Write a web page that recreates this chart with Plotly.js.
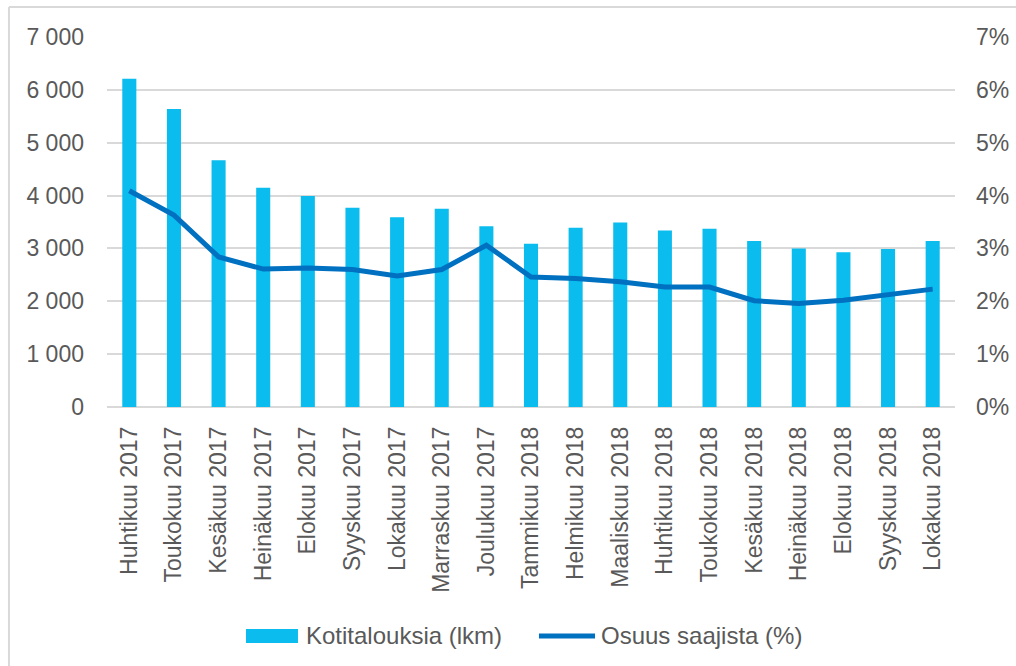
<!DOCTYPE html>
<html>
<head>
<meta charset="utf-8">
<script src="https://cdn.plot.ly/plotly-3.0.1.min.js"></script>
<style>
html,body{margin:0;padding:0;background:#fff;}
#chart{width:1016px;height:666px;}
</style>
</head>
<body>
<div id="chart"></div>
<script>
const categories = ["Huhtikuu 2017","Toukokuu 2017","Kesäkuu 2017","Heinäkuu 2017","Elokuu 2017","Syyskuu 2017","Lokakuu 2017","Marraskuu 2017","Joulukuu 2017","Tammikuu 2018","Helmikuu 2018","Maaliskuu 2018","Huhtikuu 2018","Toukokuu 2018","Kesäkuu 2018","Heinäkuu 2018","Elokuu 2018","Syyskuu 2018","Lokakuu 2018"];
const households = [6210,5640,4670,4150,3990,3770,3590,3750,3420,3090,3390,3490,3340,3370,3140,3000,2930,2990,3140];
const shareOfRecipients = [0.0409,0.0363,0.0284,0.0261,0.0263,0.0260,0.0248,0.0260,0.0306,0.0246,0.0243,0.0237,0.0227,0.0227,0.0201,0.0196,0.0202,0.0213,0.0223];
const seriesNames = ["Kotitalouksia (lkm)","Osuus saajista (%)"];

const textColor = "#595959";
const barColor = "#0bbcee";
const lineColor = "#0070c0";
const font = {family: "Liberation Sans, Arial, sans-serif", size: 23, color: textColor};
const legendFont = {family: "Liberation Sans, Arial, sans-serif", size: 24, color: textColor};

const traces = [
  {type: "bar", x: categories, y: households, name: seriesNames[0],
   marker: {color: barColor}, yaxis: "y"},
  {type: "scatter", mode: "lines", x: categories, y: shareOfRecipients, name: seriesNames[1],
   line: {color: lineColor, width: 5}, yaxis: "y2"}
];

const legY = -0.6189;
const layout = {
  width: 1016, height: 666,
  margin: {l: 107, r: 61, t: 37, b: 259},
  paper_bgcolor: "#fff", plot_bgcolor: "#fff",
  separators: ", ",
  font: font,
  bargap: 0.685,
  showlegend: false,
  xaxis: {type: "category", tickangle: -90, ticks: "", showgrid: false,
          showline: false, zeroline: false, ticklabelstandoff: 14,
          tickfont: font},
  yaxis: {range: [0, 7000], dtick: 1000, tickformat: ",d", showgrid: true,
          gridcolor: "#d9d9d9", gridwidth: 2, zeroline: true, zerolinecolor: "#d9d9d9",
          zerolinewidth: 2, showline: false, ticks: "", ticklabelstandoff: 22,
          tickfont: font},
  yaxis2: {range: [0, 0.07], dtick: 0.01, tickformat: ".0%", overlaying: "y",
           side: "right", showgrid: false, zeroline: false, showline: false,
           ticks: "", ticklabelstandoff: 20, tickfont: font},
  shapes: [
    {type: "line", xref: "paper", yref: "paper", x0: -0.1156, x1: 1.2, y0: 1.081, y1: 1.081,
     line: {color: "#d9d9d9", width: 2}},
    {type: "line", xref: "paper", yref: "paper", x0: -0.1156, x1: -0.1156, y0: 1.081, y1: -1,
     line: {color: "#d9d9d9", width: 2}},
    {type: "rect", xref: "paper", yref: "paper", x0: 0.1639, x1: 0.2252, y0: -0.6378, y1: -0.6,
     fillcolor: barColor, line: {width: 0}},
    {type: "line", xref: "paper", yref: "paper", x0: 0.5094, x1: 0.5755, y0: legY, y1: legY,
     line: {color: lineColor, width: 5}}
  ],
  annotations: [
    {xref: "paper", yref: "paper", x: 0.2323, y: legY, xanchor: "left", yanchor: "middle",
     text: seriesNames[0], showarrow: false, font: legendFont},
    {xref: "paper", yref: "paper", x: 0.5802, y: legY, xanchor: "left", yanchor: "middle",
     text: seriesNames[1], showarrow: false, font: legendFont}
  ]
};

Plotly.newPlot("chart", traces, layout, {displayModeBar: false, staticPlot: true});
</script>
</body>
</html>
